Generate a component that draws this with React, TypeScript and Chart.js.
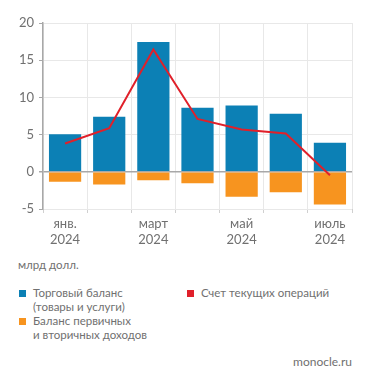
import React, { useEffect, useRef } from "react";
import { Chart, registerables } from "chart.js";

Chart.register(...registerables);

const categories = ["янв. 2024", "фев. 2024", "март 2024", "апр. 2024", "май 2024", "июнь 2024", "июль 2024"];
const tickLabels = [["янв.", "2024"], "", ["март", "2024"], "", ["май", "2024"], "", ["июль", "2024"]];
const tradeBalance = [5.05, 7.4, 17.45, 8.6, 8.9, 7.8, 3.9];
const incomeBalance = [-1.35, -1.7, -1.15, -1.55, -3.35, -2.75, -4.4];
const currentAccount = [3.8, 5.85, 16.45, 7.1, 5.7, 5.15, -0.45];
const yTicks = [20, 15, 10, 5, 0, -5];

const BLUE = "#0c80b5";
const ORANGE = "#f7941f";
const RED = "#e0202a";
const FONT = "Lato, sans-serif";
const TEXT = "#707070";

export default function App() {
  const ref = useRef<HTMLCanvasElement>(null);
  useEffect(() => {
    document.body.style.margin = "0";
    const chart = new Chart(ref.current!, {
      type: "bar",
      data: {
        labels: categories,
        datasets: [
          { type: "line", label: "Счет текущих операций", data: currentAccount, borderColor: RED, borderWidth: 2, pointRadius: 0, stack: "line", order: 0, tension: 0 } as any,
          { label: "Торговый баланс", data: tradeBalance, backgroundColor: BLUE, stack: "bars", order: 1 },
          { label: "Баланс первичных и вторичных доходов", data: incomeBalance, backgroundColor: ORANGE, stack: "bars", order: 1 },
        ],
      },
      options: {
        animation: false,
        responsive: false,
        maintainAspectRatio: false,
        layout: { padding: { left: 0, right: 19, top: 23, bottom: 0 } },
        plugins: { legend: { display: false }, tooltip: { enabled: false } },
        datasets: { bar: { categoryPercentage: 1, barPercentage: 0.73 } },
        scales: {
          x: {
            stacked: true,
            grid: { color: "#e8e8e8", offset: true, tickLength: 4, tickColor: "#d0d0d0" },
            border: { display: false },
            ticks: {
              autoSkip: false,
              maxRotation: 0,
              padding: 3,
              color: TEXT,
              font: { family: FONT, size: 13 },
              callback: (_v: any, i: number) => tickLabels[i] as any,
            },
            afterFit: (s: any) => { s.height = 41; },
          },
          y: {
            stacked: true,
            min: -5,
            max: 20,
            afterBuildTicks: (s: any) => { s.ticks = yTicks.map((v) => ({ value: v })); },
            grid: {
              color: (c: any) => (c.tick && c.tick.value === 0 ? "#a8a8a8" : "#e8e8e8"),
              lineWidth: (c: any) => (c.tick && c.tick.value === 0 ? 1.5 : 1),
              tickLength: 4,
              tickColor: "#a8a8a8",
            },
            border: { display: true, color: "#a8a8a8", width: 1.5 },
            ticks: { color: TEXT, padding: 5, font: { family: FONT, size: 13 } },
            afterFit: (s: any) => { s.width = 43; },
          },
        },
      },
    });
    return () => chart.destroy();
  }, []);

  const sq = (c: string): React.CSSProperties => ({ position: "absolute", width: 7, height: 7, background: c });
  const txt: React.CSSProperties = { position: "absolute", fontFamily: FONT, fontSize: 11.5, color: TEXT, lineHeight: "14px", whiteSpace: "nowrap" };

  return (
    <div style={{ position: "relative", width: 371, height: 384, background: "#fff", overflow: "hidden" }}>
      <canvas ref={ref} width={371} height={250} style={{ position: "absolute", left: 0, top: 0 }} />
      <div style={{ ...txt, left: 18, top: 258 }}>млрд долл.</div>
      <div style={{ ...sq(BLUE), left: 19, top: 290 }} />
      <div style={{ ...txt, left: 33, top: 286 }}>Торговый баланс<br />(товары и услуги)</div>
      <div style={{ ...sq(ORANGE), left: 19, top: 318 }} />
      <div style={{ ...txt, left: 33, top: 314 }}>Баланс первичных<br />и вторичных доходов</div>
      <div style={{ ...sq(RED), left: 187, top: 290 }} />
      <div style={{ ...txt, left: 201, top: 286 }}>Счет текущих операций</div>
      <div style={{ ...txt, fontSize: 12, right: 19, top: 355 }}>monocle.ru</div>
    </div>
  );
}
